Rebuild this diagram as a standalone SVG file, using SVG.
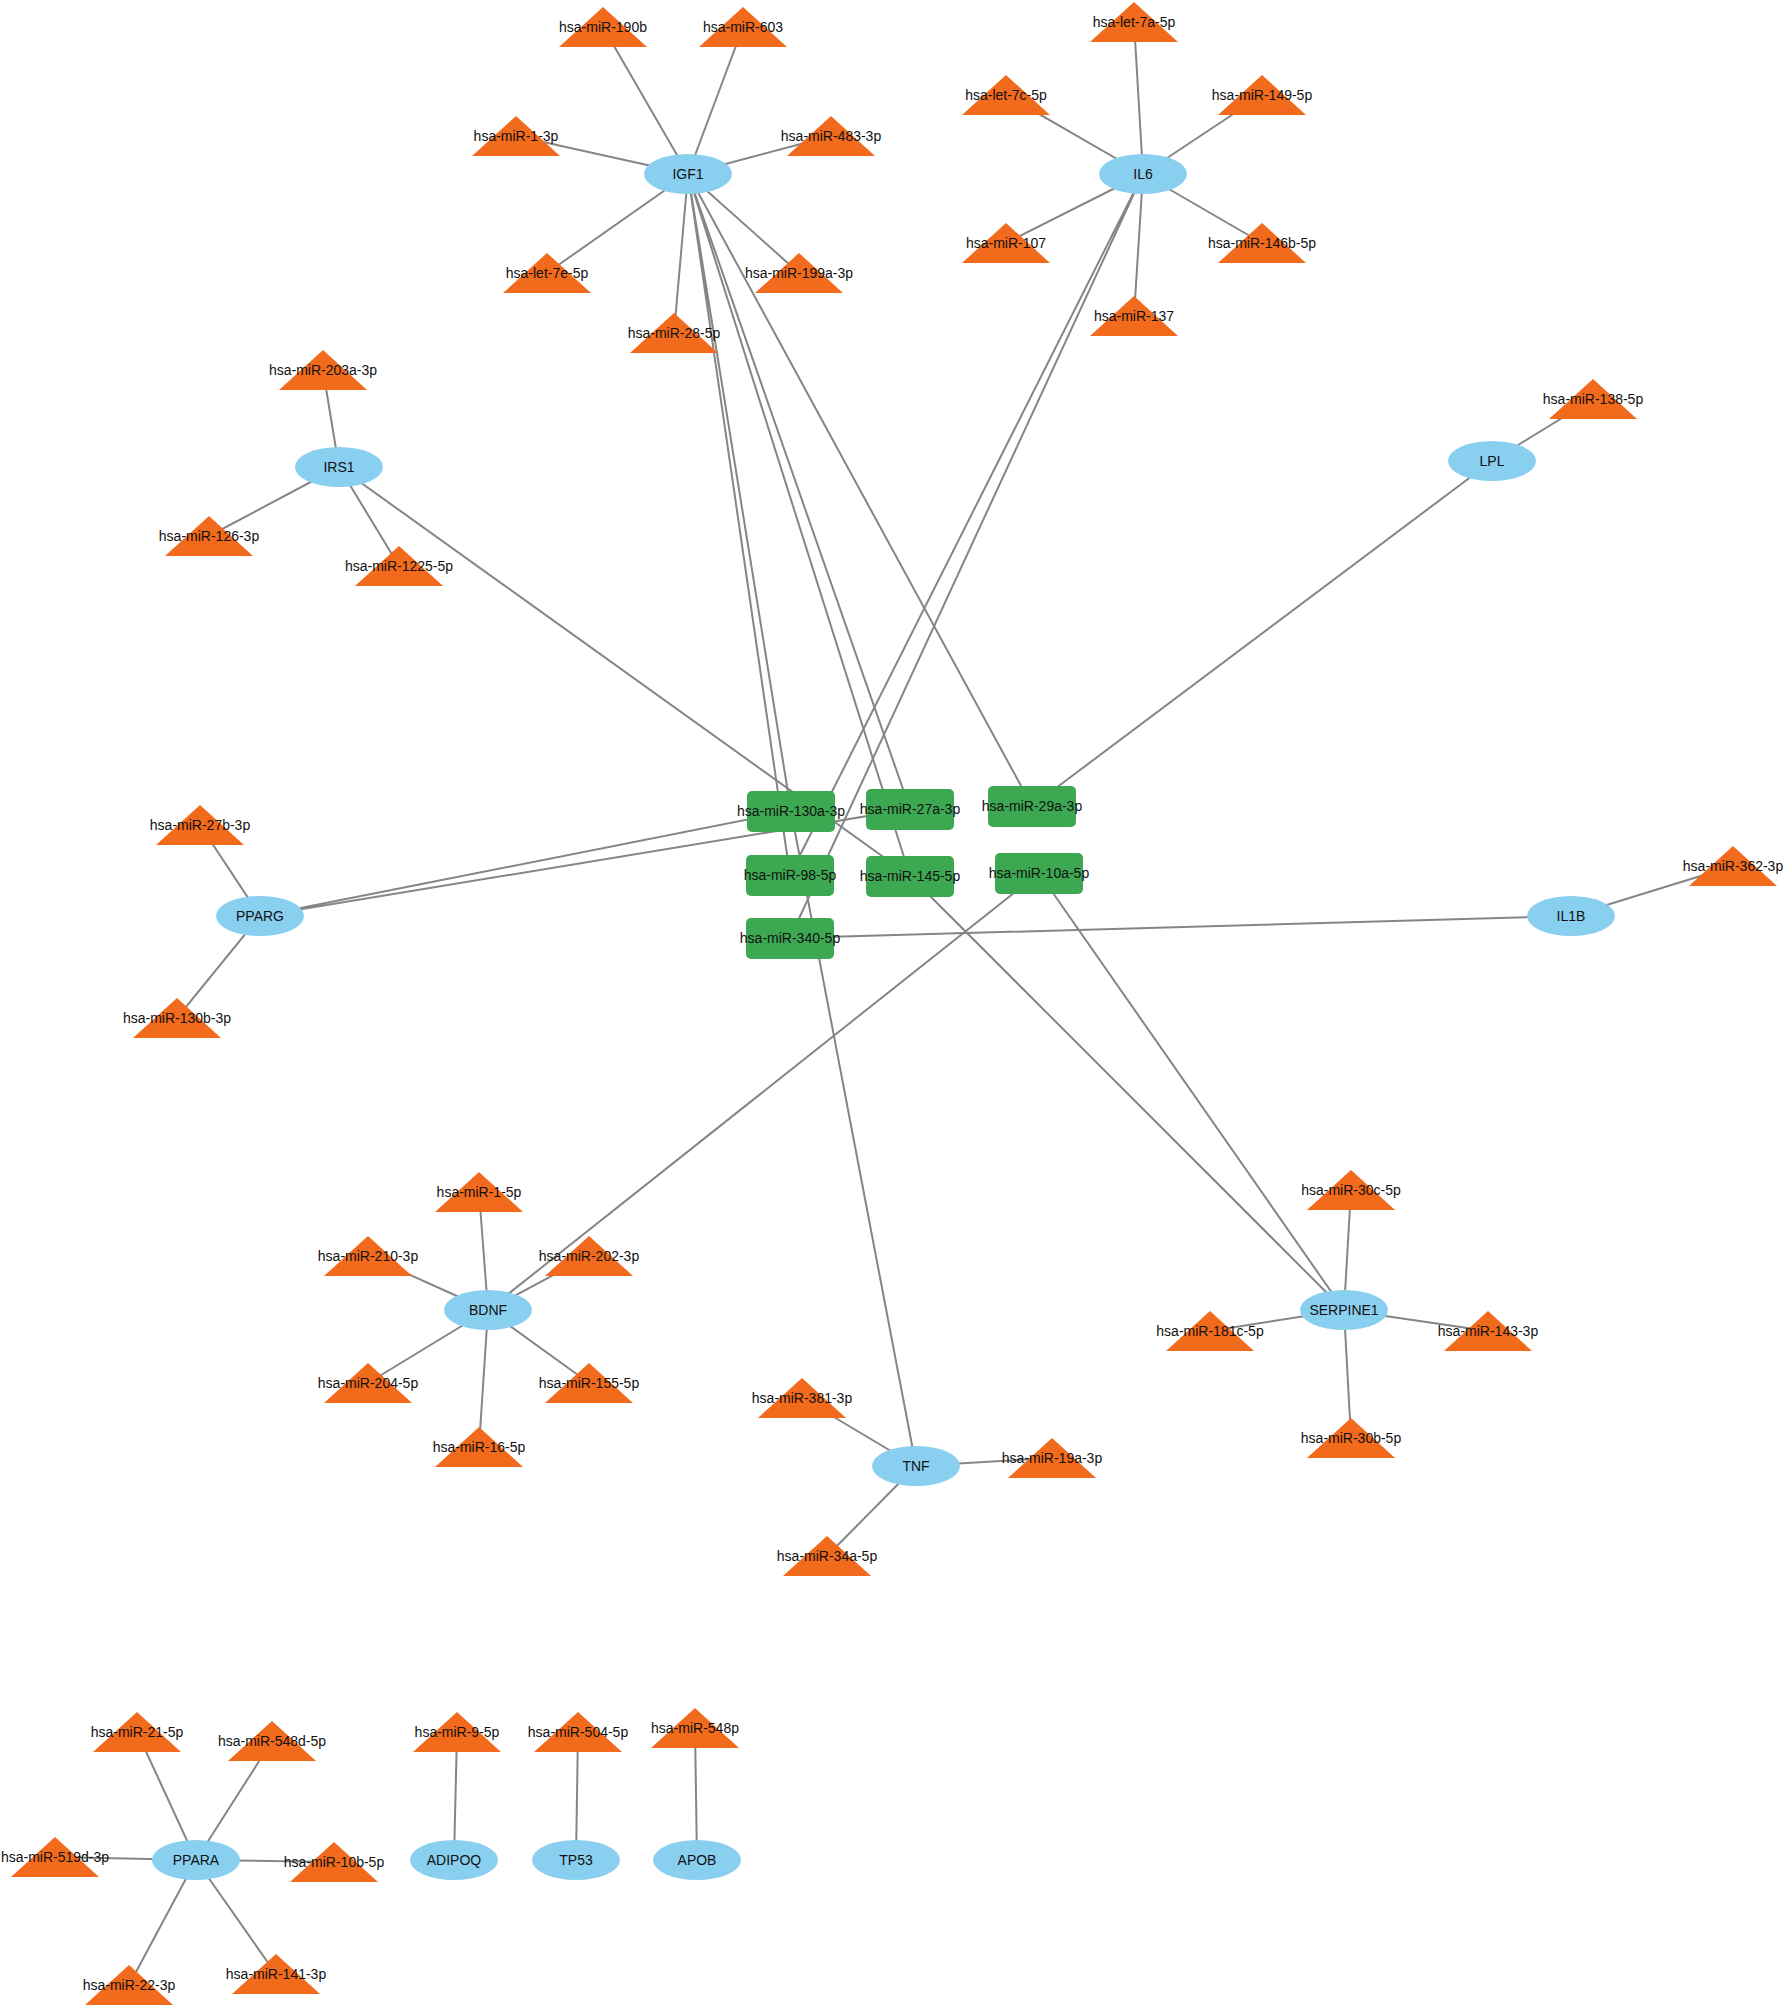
<svg xmlns="http://www.w3.org/2000/svg" xmlns:xlink="http://www.w3.org/1999/xlink" width="1784" height="2006" viewBox="0 0 1784 2006">
<style>
.e{stroke:#858585;stroke-width:2;fill:none}
.g{fill:#89CFF0}
.m{fill:#F26A1B}
.r{fill:#3DA852}
text{font-family:"Liberation Sans",Arial,sans-serif;font-size:14px;fill:#111;text-anchor:middle}
</style>
<defs>
<path id="tri" d="M0,-20 L44,20 L-44,20 Z"/>
</defs>
<rect width="1784" height="2006" fill="#fff"/>
<g id="edges">
<path class="e" d="M688,174L603,27M688,174L743,27M688,174L516,136M688,174L831,136M688,174L547,273M688,174L799,273M688,174L674,333M688,174L791,811M688,174L790,875M688,174L910,809M688,174L910,876M688,174L1032,806"/>
<path class="e" d="M1143,174L1134,22M1143,174L1006,95M1143,174L1262,95M1143,174L1006,243M1143,174L1262,243M1143,174L1134,316M1143,174L790,875M1143,174L790,938"/>
<path class="e" d="M339,467L323,370M339,467L209,536M339,467L399,566M339,467L910,876"/>
<path class="e" d="M1492,461L1593,399M1492,461L1032,806"/>
<path class="e" d="M260,916L200,825M260,916L177,1018M260,916L791,811M260,916L910,809"/>
<path class="e" d="M1571,916L1733,866M1571,916L790,938"/>
<path class="e" d="M488,1310L479,1192M488,1310L368,1256M488,1310L589,1256M488,1310L368,1383M488,1310L589,1383M488,1310L479,1447M488,1310L1039,873"/>
<path class="e" d="M1344,1310L1351,1190M1344,1310L1210,1331M1344,1310L1351,1438M1344,1310L1488,1331M1344,1310L910,876M1344,1310L1039,873"/>
<path class="e" d="M916,1466L802,1398M916,1466L1052,1458M916,1466L827,1556M916,1466L791,811"/>
<path class="e" d="M196,1860L137,1732M196,1860L272,1741M196,1860L55,1857M196,1860L334,1862M196,1860L129,1985M196,1860L276,1974"/>
<path class="e" d="M454,1860L457,1732M576,1860L578,1732M697,1860L695,1728"/>
</g>
<g id="n-IGF1"><ellipse class="g" cx="688" cy="174" rx="44" ry="20"/><text x="688" y="179">IGF1</text></g>
<g id="n-IL6"><ellipse class="g" cx="1143" cy="174" rx="44" ry="20"/><text x="1143" y="179">IL6</text></g>
<g id="n-IRS1"><ellipse class="g" cx="339" cy="467" rx="44" ry="20"/><text x="339" y="472">IRS1</text></g>
<g id="n-LPL"><ellipse class="g" cx="1492" cy="461" rx="44" ry="20"/><text x="1492" y="466">LPL</text></g>
<g id="n-PPARG"><ellipse class="g" cx="260" cy="916" rx="44" ry="20"/><text x="260" y="921">PPARG</text></g>
<g id="n-IL1B"><ellipse class="g" cx="1571" cy="916" rx="44" ry="20"/><text x="1571" y="921">IL1B</text></g>
<g id="n-BDNF"><ellipse class="g" cx="488" cy="1310" rx="44" ry="20"/><text x="488" y="1315">BDNF</text></g>
<g id="n-SERPINE1"><ellipse class="g" cx="1344" cy="1310" rx="44" ry="20"/><text x="1344" y="1315">SERPINE1</text></g>
<g id="n-TNF"><ellipse class="g" cx="916" cy="1466" rx="44" ry="20"/><text x="916" y="1471">TNF</text></g>
<g id="n-PPARA"><ellipse class="g" cx="196" cy="1860" rx="44" ry="20"/><text x="196" y="1865">PPARA</text></g>
<g id="n-ADIPOQ"><ellipse class="g" cx="454" cy="1860" rx="44" ry="20"/><text x="454" y="1865">ADIPOQ</text></g>
<g id="n-TP53"><ellipse class="g" cx="576" cy="1860" rx="44" ry="20"/><text x="576" y="1865">TP53</text></g>
<g id="n-APOB"><ellipse class="g" cx="697" cy="1860" rx="44" ry="20"/><text x="697" y="1865">APOB</text></g>
<g id="n-miR-130a-3p"><rect class="r" x="747" y="791" width="88" height="41" rx="5"/><text x="791" y="816">hsa-miR-130a-3p</text></g>
<g id="n-miR-27a-3p"><rect class="r" x="866" y="789" width="88" height="41" rx="5"/><text x="910" y="814">hsa-miR-27a-3p</text></g>
<g id="n-miR-29a-3p"><rect class="r" x="988" y="786" width="88" height="41" rx="5"/><text x="1032" y="811">hsa-miR-29a-3p</text></g>
<g id="n-miR-98-5p"><rect class="r" x="746" y="855" width="88" height="41" rx="5"/><text x="790" y="880">hsa-miR-98-5p</text></g>
<g id="n-miR-145-5p"><rect class="r" x="866" y="856" width="88" height="41" rx="5"/><text x="910" y="881">hsa-miR-145-5p</text></g>
<g id="n-miR-10a-5p"><rect class="r" x="995" y="853" width="88" height="41" rx="5"/><text x="1039" y="878">hsa-miR-10a-5p</text></g>
<g id="n-miR-340-5p"><rect class="r" x="746" y="918" width="88" height="41" rx="5"/><text x="790" y="943">hsa-miR-340-5p</text></g>
<g id="n-miR-190b"><use href="#tri" class="m" x="603" y="27"/><text x="603" y="32">hsa-miR-190b</text></g>
<g id="n-miR-603"><use href="#tri" class="m" x="743" y="27"/><text x="743" y="32">hsa-miR-603</text></g>
<g id="n-miR-1-3p"><use href="#tri" class="m" x="516" y="136"/><text x="516" y="141">hsa-miR-1-3p</text></g>
<g id="n-miR-483-3p"><use href="#tri" class="m" x="831" y="136"/><text x="831" y="141">hsa-miR-483-3p</text></g>
<g id="n-let-7e-5p"><use href="#tri" class="m" x="547" y="273"/><text x="547" y="278">hsa-let-7e-5p</text></g>
<g id="n-miR-199a-3p"><use href="#tri" class="m" x="799" y="273"/><text x="799" y="278">hsa-miR-199a-3p</text></g>
<g id="n-miR-28-5p"><use href="#tri" class="m" x="674" y="333"/><text x="674" y="338">hsa-miR-28-5p</text></g>
<g id="n-let-7a-5p"><use href="#tri" class="m" x="1134" y="22"/><text x="1134" y="27">hsa-let-7a-5p</text></g>
<g id="n-let-7c-5p"><use href="#tri" class="m" x="1006" y="95"/><text x="1006" y="100">hsa-let-7c-5p</text></g>
<g id="n-miR-149-5p"><use href="#tri" class="m" x="1262" y="95"/><text x="1262" y="100">hsa-miR-149-5p</text></g>
<g id="n-miR-107"><use href="#tri" class="m" x="1006" y="243"/><text x="1006" y="248">hsa-miR-107</text></g>
<g id="n-miR-146b-5p"><use href="#tri" class="m" x="1262" y="243"/><text x="1262" y="248">hsa-miR-146b-5p</text></g>
<g id="n-miR-137"><use href="#tri" class="m" x="1134" y="316"/><text x="1134" y="321">hsa-miR-137</text></g>
<g id="n-miR-203a-3p"><use href="#tri" class="m" x="323" y="370"/><text x="323" y="375">hsa-miR-203a-3p</text></g>
<g id="n-miR-126-3p"><use href="#tri" class="m" x="209" y="536"/><text x="209" y="541">hsa-miR-126-3p</text></g>
<g id="n-miR-1225-5p"><use href="#tri" class="m" x="399" y="566"/><text x="399" y="571">hsa-miR-1225-5p</text></g>
<g id="n-miR-138-5p"><use href="#tri" class="m" x="1593" y="399"/><text x="1593" y="404">hsa-miR-138-5p</text></g>
<g id="n-miR-27b-3p"><use href="#tri" class="m" x="200" y="825"/><text x="200" y="830">hsa-miR-27b-3p</text></g>
<g id="n-miR-130b-3p"><use href="#tri" class="m" x="177" y="1018"/><text x="177" y="1023">hsa-miR-130b-3p</text></g>
<g id="n-miR-362-3p"><use href="#tri" class="m" x="1733" y="866"/><text x="1733" y="871">hsa-miR-362-3p</text></g>
<g id="n-miR-1-5p"><use href="#tri" class="m" x="479" y="1192"/><text x="479" y="1197">hsa-miR-1-5p</text></g>
<g id="n-miR-210-3p"><use href="#tri" class="m" x="368" y="1256"/><text x="368" y="1261">hsa-miR-210-3p</text></g>
<g id="n-miR-202-3p"><use href="#tri" class="m" x="589" y="1256"/><text x="589" y="1261">hsa-miR-202-3p</text></g>
<g id="n-miR-204-5p"><use href="#tri" class="m" x="368" y="1383"/><text x="368" y="1388">hsa-miR-204-5p</text></g>
<g id="n-miR-155-5p"><use href="#tri" class="m" x="589" y="1383"/><text x="589" y="1388">hsa-miR-155-5p</text></g>
<g id="n-miR-16-5p"><use href="#tri" class="m" x="479" y="1447"/><text x="479" y="1452">hsa-miR-16-5p</text></g>
<g id="n-miR-30c-5p"><use href="#tri" class="m" x="1351" y="1190"/><text x="1351" y="1195">hsa-miR-30c-5p</text></g>
<g id="n-miR-181c-5p"><use href="#tri" class="m" x="1210" y="1331"/><text x="1210" y="1336">hsa-miR-181c-5p</text></g>
<g id="n-miR-30b-5p"><use href="#tri" class="m" x="1351" y="1438"/><text x="1351" y="1443">hsa-miR-30b-5p</text></g>
<g id="n-miR-143-3p"><use href="#tri" class="m" x="1488" y="1331"/><text x="1488" y="1336">hsa-miR-143-3p</text></g>
<g id="n-miR-381-3p"><use href="#tri" class="m" x="802" y="1398"/><text x="802" y="1403">hsa-miR-381-3p</text></g>
<g id="n-miR-19a-3p"><use href="#tri" class="m" x="1052" y="1458"/><text x="1052" y="1463">hsa-miR-19a-3p</text></g>
<g id="n-miR-34a-5p"><use href="#tri" class="m" x="827" y="1556"/><text x="827" y="1561">hsa-miR-34a-5p</text></g>
<g id="n-miR-21-5p"><use href="#tri" class="m" x="137" y="1732"/><text x="137" y="1737">hsa-miR-21-5p</text></g>
<g id="n-miR-548d-5p"><use href="#tri" class="m" x="272" y="1741"/><text x="272" y="1746">hsa-miR-548d-5p</text></g>
<g id="n-miR-519d-3p"><use href="#tri" class="m" x="55" y="1857"/><text x="55" y="1862">hsa-miR-519d-3p</text></g>
<g id="n-miR-10b-5p"><use href="#tri" class="m" x="334" y="1862"/><text x="334" y="1867">hsa-miR-10b-5p</text></g>
<g id="n-miR-22-3p"><use href="#tri" class="m" x="129" y="1985"/><text x="129" y="1990">hsa-miR-22-3p</text></g>
<g id="n-miR-141-3p"><use href="#tri" class="m" x="276" y="1974"/><text x="276" y="1979">hsa-miR-141-3p</text></g>
<g id="n-miR-9-5p"><use href="#tri" class="m" x="457" y="1732"/><text x="457" y="1737">hsa-miR-9-5p</text></g>
<g id="n-miR-504-5p"><use href="#tri" class="m" x="578" y="1732"/><text x="578" y="1737">hsa-miR-504-5p</text></g>
<g id="n-miR-548p"><use href="#tri" class="m" x="695" y="1728"/><text x="695" y="1733">hsa-miR-548p</text></g>
</svg>
